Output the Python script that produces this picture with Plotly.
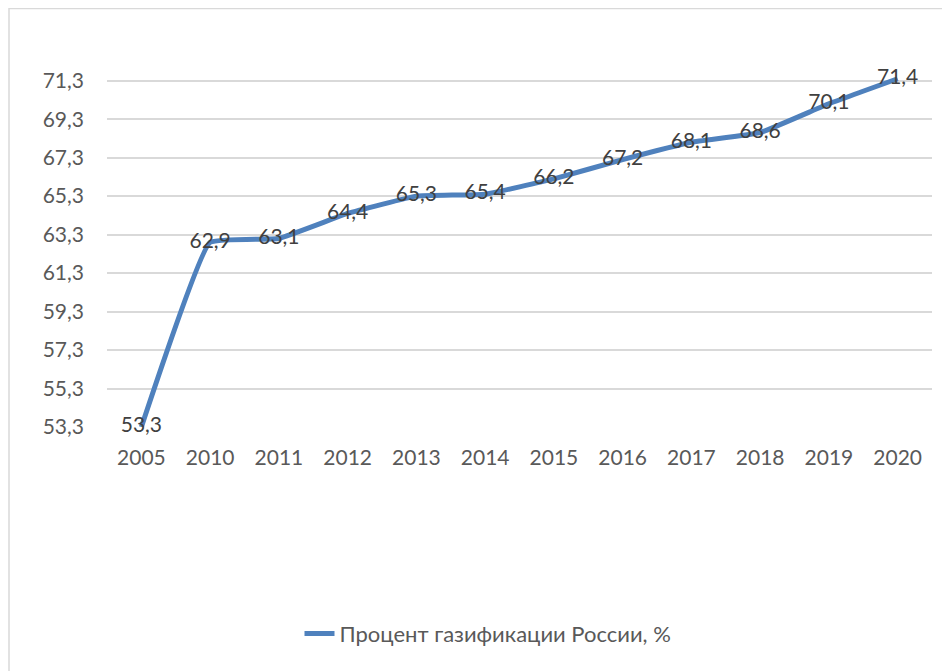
import plotly.graph_objects as go

years = ["2005", "2010", "2011", "2012", "2013", "2014", "2015", "2016", "2017", "2018", "2019", "2020"]
values = [53.3, 62.9, 63.1, 64.4, 65.3, 65.4, 66.2, 67.2, 68.1, 68.6, 70.1, 71.4]
series_name = "Процент газификации России, %"
y_ticks = [53.3, 55.3, 57.3, 59.3, 61.3, 63.3, 65.3, 67.3, 69.3, 71.3]

def fmt(v):
    return f"{v:.1f}".replace(".", ",")

# the page body has an 8px default margin; work in page pixels minus offset
OFF = 8
W, H = 950 - OFF, 671 - OFF
u = (426.7 - 81) / 18.0           # pixels per unit
y_lo, y_hi = 53.3, 71.7
plot_top = 81 - (y_hi - 71.3) * u - OFF
plot_bot = 426.7 - OFF
L = 107 - OFF
R = W - (932 - OFF)
T = plot_top
B = H - plot_bot
pw = W - L - R
ph = H - T - B

FONT = "Lato, Calibri, sans-serif"

fig = go.Figure()
fig.add_trace(go.Scatter(
    x=years, y=values, mode="lines+text", name=series_name,
    line=dict(color="#4F81BD", width=5, shape="spline", smoothing=0.3),
    text=[fmt(v) for v in values], textposition="middle center",
    textfont=dict(family=FONT, size=21, color="#404040"),
    cliponaxis=False,
))

fig.update_layout(
    width=W, height=H,
    margin=dict(l=L, r=R, t=T, b=B, autoexpand=False),
    paper_bgcolor="white", plot_bgcolor="white",
    showlegend=True,
    legend=dict(orientation="h", x=(488 - 107) / (932 - 107), xanchor="center",
                y=(plot_bot - (633 - OFF)) / ph, yanchor="middle",
                font=dict(family=FONT, size=22, color="#595959")),
    xaxis=dict(type="category", range=[-0.5, len(years) - 0.5],
               showgrid=False, zeroline=False, showline=False,
               ticks="", tickfont=dict(family=FONT, size=21, color="#595959"),
               ticklabelstandoff=16),
    yaxis=dict(range=[y_lo, y_hi], tickvals=y_ticks, ticktext=[fmt(v) for v in y_ticks],
               showgrid=True, gridcolor="#D9D9D9", gridwidth=1.5, zeroline=False,
               showline=False, ticks="",
               tickfont=dict(family=FONT, size=21, color="#595959"),
               ticklabelstandoff=22),
    shapes=[dict(type="rect", xref="paper", yref="paper",
                 x0=(1 - L) / pw, x1=(W + 20 - L) / pw,
                 y0=(plot_bot - H - 20) / ph, y1=(plot_bot - 1) / ph,
                 line=dict(color="#D9D9D9", width=1.5), fillcolor="rgba(0,0,0,0)",
                 layer="below")],
)

fig.write_html("out.html")
